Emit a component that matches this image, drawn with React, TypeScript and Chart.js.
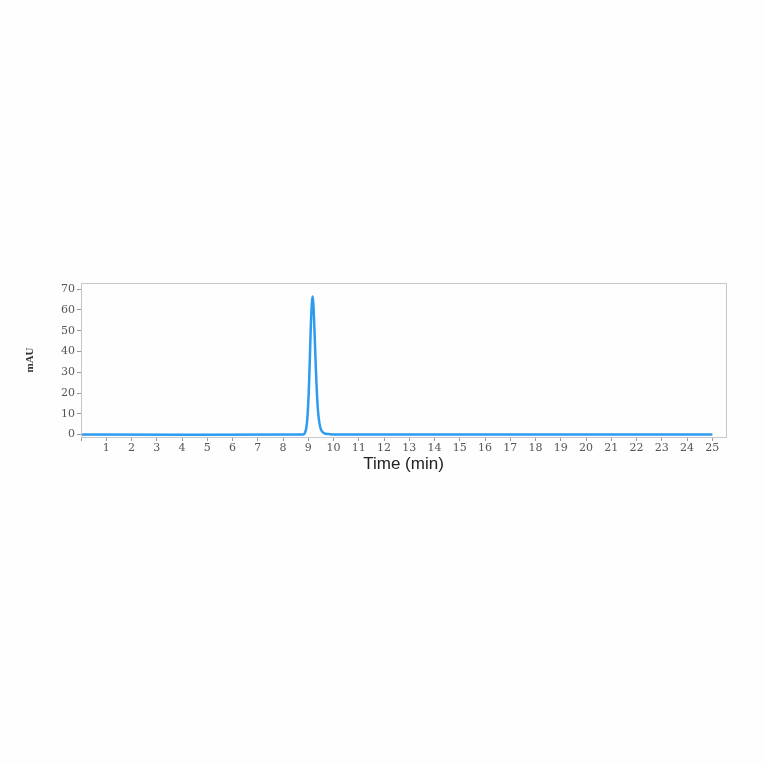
import React, { useEffect, useRef } from "react";
import { Chart, registerables } from "chart.js";

Chart.register(...registerables);

// retention time (min) and absorbance (mAU)
const times = [0, 8.8, 8.86, 8.92, 8.97, 9.02, 9.06, 9.1, 9.14, 9.17, 9.2, 9.24, 9.28, 9.33, 9.38, 9.44, 9.5, 9.58, 9.68, 9.85, 10.0, 25];
const mAU = [0, 0, 0.6, 3, 9, 21, 36, 52, 63, 66.5, 63, 52, 38, 23, 12, 5.5, 2.5, 1, 0.4, 0.15, 0, 0];

const frame = {
  id: "frame",
  afterDraw(chart: Chart) {
    const { ctx, chartArea } = chart;
    ctx.save();
    ctx.strokeStyle = "#c8c8cc";
    ctx.lineWidth = 1;
    ctx.strokeRect(chartArea.left + 0.5, chartArea.top + 0.5, chartArea.width, chartArea.height);
    ctx.restore();
  },
};

const App: React.FC = () => {
  const canvasRef = useRef<HTMLCanvasElement | null>(null);
  const chartRef = useRef<Chart | null>(null);

  useEffect(() => {
    if (!canvasRef.current) return;
    if (chartRef.current) chartRef.current.destroy();

    const tickFont = { family: "'DejaVu Serif', serif", size: 11 };

    chartRef.current = new Chart(canvasRef.current, {
      type: "line",
      data: {
        datasets: [
          {
            data: times.map((t, i) => ({ x: t, y: mAU[i] })),
            borderColor: "#2d9cf0",
            borderWidth: 2.5,
            pointRadius: 0,
            tension: 0.3,
            fill: false,
          },
        ],
      },
      options: {
        animation: false,
        responsive: false,
        maintainAspectRatio: false,
        layout: { padding: { top: 283, right: 38, bottom: 289, left: 24 } },
        plugins: { legend: { display: false }, tooltip: { enabled: false } },
        scales: {
          x: {
            type: "linear",
            min: 0,
            max: 25.54,
            afterFit: (s: any) => {
              s.height = 38;
            },
            border: { color: "#b8b8c0" },
            grid: { drawOnChartArea: false, tickLength: 4, color: "#999" },
            ticks: {
              stepSize: 1,
              includeBounds: false,
              autoSkip: false,
              maxRotation: 0,
              padding: 1,
              color: "#555",
              font: tickFont,
              callback: (v: any) => (v === 0 ? "" : String(v)),
            },
            title: {
              display: true,
              text: "Time (min)",
              color: "#222",
              font: { family: "'Liberation Sans', Arial, sans-serif", size: 17 },
              padding: 0,
            },
          },
          y: {
            min: -1.2,
            max: 73,
            afterFit: (s: any) => {
              s.width = 57;
            },
            border: { color: "#b8b8c0" },
            grid: { drawOnChartArea: false, tickLength: 4, color: "#999" },
            ticks: {
              stepSize: 10,
              includeBounds: false,
              padding: 2,
              color: "#555",
              font: tickFont,
            },
            title: {
              display: true,
              text: "mAU",
              color: "#333",
              font: { family: "'Liberation Serif', serif", size: 11, weight: "bold" },
              padding: 0,
            },
          },
        },
      },
      plugins: [frame],
    });

    return () => {
      chartRef.current?.destroy();
      chartRef.current = null;
    };
  }, []);

  return (
    <div style={{ position: "fixed", left: 0, top: 0, width: 764, height: 764, background: "#fefefe" }}>
      <canvas ref={canvasRef} width={764} height={764} style={{ width: 764, height: 764 }} />
    </div>
  );
};

export default App;
